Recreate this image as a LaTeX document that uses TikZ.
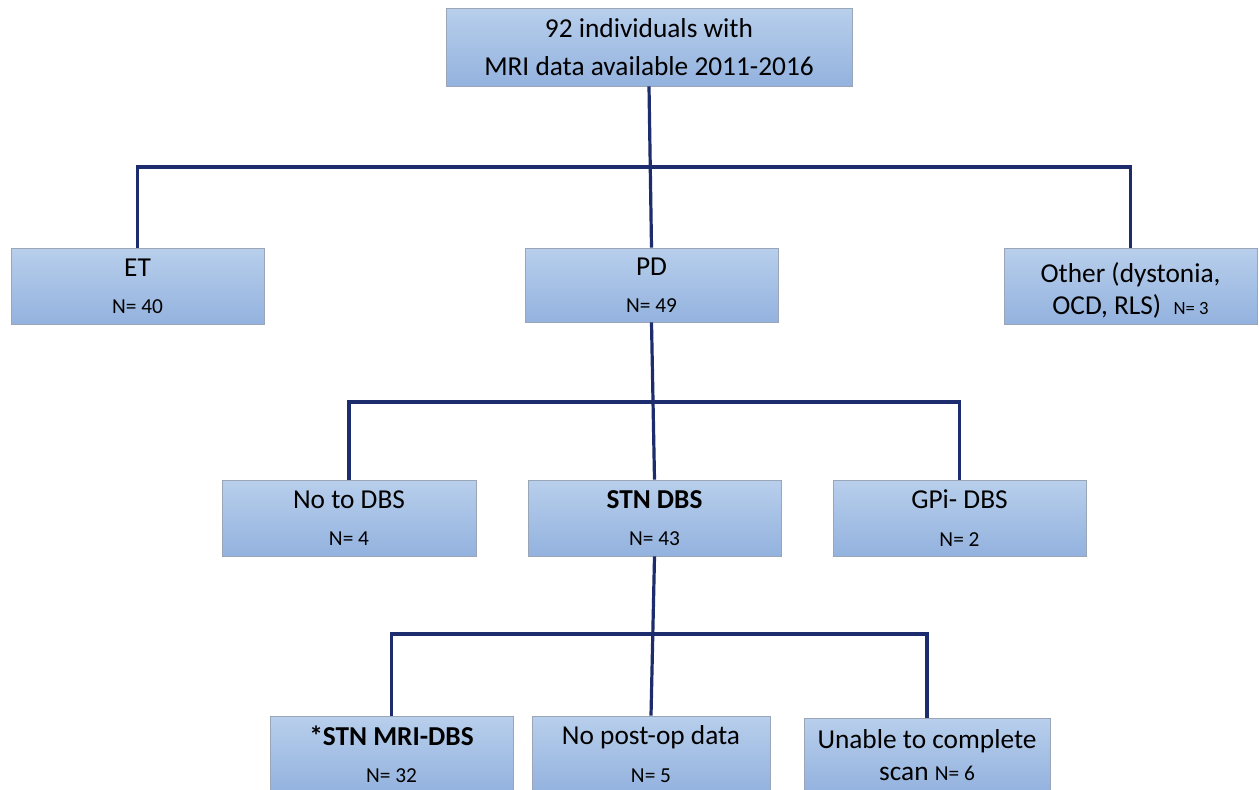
\documentclass[tikz,border=0pt]{standalone}
\usepackage{fontspec}
\setmainfont{Carlito}
\definecolor{boxtop}{HTML}{B8CFEC}
\definecolor{boxbot}{HTML}{93B2DE}
\definecolor{boxline}{HTML}{9AA6B8}
\definecolor{conncol}{HTML}{1C2C6C}
\newcommand{\mainf}{\fontsize{20.5}{24}\selectfont}
\newcommand{\nf}{\fontsize{16}{24}\selectfont}
\newcommand{\nsmall}{\fontsize{14}{24}\selectfont}
\tikzset{
  fbox/.style={draw=boxline, line width=0.6pt, top color=boxtop, bottom color=boxbot,
    align=center, inner sep=0pt, font=\mainf},
  conn/.style={draw=conncol, line width=2.4pt}
}
\begin{document}
\begin{tikzpicture}[x=0.75pt,y=-0.75pt]
\useasboundingbox (0,0) rectangle (1259,789);
\clip (0,0) rectangle (1259,789);
% boxes
\node[fbox, minimum width=406*0.75pt, minimum height=78*0.75pt] (top) at (649,47)
  {92 individuals with\\[5pt] MRI data available 2011-2016};
\node[fbox, minimum width=253*0.75pt, minimum height=76*0.75pt] (et) at (137.5,286)
  {ET\\[4pt] {\nf N= 40}};
\node[fbox, minimum width=253*0.75pt, minimum height=74*0.75pt] (pd) at (651.5,285)
  {PD\\[4pt] {\nf N= 49}};
\node[fbox, minimum width=253*0.75pt, minimum height=76*0.75pt] (oth) at (1130.5,286)
  {\rule{0pt}{21pt}Other (dystonia,\\ OCD, RLS)\ \ {\nsmall N= 3}};
\node[fbox, minimum width=254*0.75pt, minimum height=76*0.75pt] (no) at (349,518)
  {No to DBS\\[4pt] {\nf N= 4}};
\node[fbox, minimum width=253*0.75pt, minimum height=76*0.75pt] (stn) at (654.5,518)
  {\textbf{STN DBS}\\[4pt] {\nf N= 43}};
\node[fbox, minimum width=253*0.75pt, minimum height=76*0.75pt] (gpi) at (959.5,518)
  {GPi- DBS\\[4pt] {\nf N= 2}};
\node[fbox, minimum width=243*0.75pt, minimum height=76*0.75pt] (mri) at (391.5,754)
  {\textbf{*STN MRI-DBS}\\[4pt] {\nf N= 32}};
\node[fbox, minimum width=238*0.75pt, minimum height=76*0.75pt] (post) at (651,754)
  {No post-op data\\[4pt] {\nf N= 5}};
\node[fbox, minimum width=246*0.75pt, minimum height=74*0.75pt] (unab) at (927,755)
  {Unable to complete\\ scan {\nf N= 6}};
% bus coordinates
\coordinate (b1) at (651,167);
\coordinate (b2) at (652,402);
\coordinate (b3) at (656,634);
% connectors
\draw[conn] (top.south) -- (pd.north);
\draw[conn] (et.north) -- (et.north |- b1) -- (oth.north |- b1) -- (oth.north);
\draw[conn] (pd.south) -- (stn.north);
\draw[conn] (no.north) -- (no.north |- b2) -- (gpi.north |- b2) -- (gpi.north);
\draw[conn] (stn.south) -- (post.north);
\draw[conn] (mri.north) -- (mri.north |- b3) -- (unab.north |- b3) -- (unab.north);
\end{tikzpicture}
\end{document}
